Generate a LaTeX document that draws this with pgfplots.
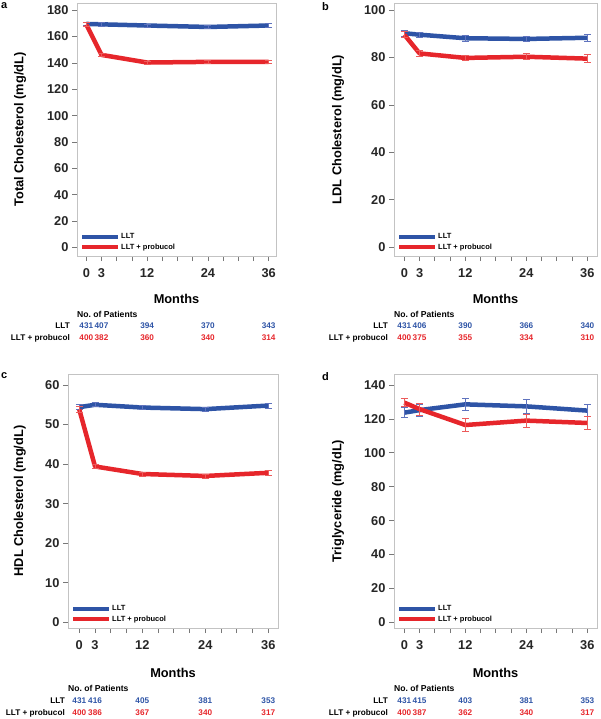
\documentclass[border=0pt]{standalone}
\usepackage{pgfplots}
\pgfplotsset{compat=1.18}
\usepackage{fontspec}
\setmainfont{Liberation Sans}

\definecolor{cblue}{RGB}{46,84,166}
\definecolor{cred}{RGB}{230,38,43}
\definecolor{eblue}{RGB}{95,115,190}
\definecolor{ered}{RGB}{236,90,90}
\definecolor{framec}{RGB}{195,195,195}
\definecolor{tickc}{RGB}{120,120,120}

\newcommand\bigfont{\bfseries\fontsize{12.8}{14}\selectfont}
\tikzset{tab/.style={font=\bfseries\fontsize{8.2}{9}\selectfont, inner sep=0pt, text height=6pt, text depth=0pt, anchor=center}}

% numbers at risk: x, ymin, offset, LLT, LLT+probucol
\newcommand\cnt[5]{%
  \node[tab,text=cblue,yshift=-#3pt] at (axis cs:#1,#2) {#4};
  \node[tab,text=cred,yshift=-#3pt-12pt] at (axis cs:#1,#2) {#5};}
\newcommand\rowlabels[3]{% xgap, first offset, header offset
  \node[tab,font=\bfseries\fontsize{8.6}{9}\selectfont,anchor=west,yshift=-#3pt] at (rel axis cs:0,0) {No.\ of Patients};
  \node[tab,anchor=east,xshift=-#1pt,yshift=-#2pt] at (rel axis cs:0,0) {LLT};
  \node[tab,anchor=east,xshift=-#1pt,yshift=-#2pt-12pt] at (rel axis cs:0,0) {LLT + probucol};}

\pgfplotsset{
  panel/.style={
    scale only axis, clip=false, anchor=north west,
    axis line style={framec, line width=0.8pt},
    xtick={0,3,12,24,36},
    minor xtick={6,9,15,18,21,27,30,33},
    xtick pos=bottom, ytick pos=left,
    tick align=outside,
    major tick length=5pt, minor tick length=5pt,
    every tick/.style={tickc, line width=0.7pt},
    every minor tick/.style={tickc, line width=0.7pt},
    tick label style={font=\bigfont, text=black!85},
    xticklabel style={yshift=-4pt},
    /pgf/number format/assume math mode=true,
    xlabel={Months},
    xlabel style={font=\bigfont, at={(axis description cs:0.5,0)}, anchor=center},
    ylabel style={font=\bigfont, anchor=center},
    legend style={at={(rel axis cs:0,0)}, anchor=south west, xshift=3pt, yshift=4pt,
      draw=none, fill=none, font=\bfseries\fontsize{7.5}{8}\selectfont,
      row sep=1.5pt, inner sep=0pt, nodes={inner sep=1pt}},
    legend cell align=left,
    legend image code/.code={\draw[#1, line width=4pt] (0pt,0pt) -- (36pt,0pt);},
  },
  llt/.style={cblue, line width=4.5pt, line join=round, error bars/.cd, y dir=both, y explicit,
    error bar style={eblue, line width=0.8pt},
    error mark options={eblue, line width=0.8pt, mark size=3.5pt, rotate=90}},
  prb/.style={cred, line width=4.5pt, line join=round, error bars/.cd, y dir=both, y explicit,
    error bar style={ered, line width=0.8pt},
    error mark options={ered, line width=0.8pt, mark size=3.5pt, rotate=90}},
}

\begin{document}
\begin{tikzpicture}
\path (0,0) rectangle (600pt,-719pt);

\node[anchor=north west, inner sep=0pt, font=\bfseries\fontsize{11}{12}\selectfont] at (1pt,-2pt) {a};
\node[anchor=north west, inner sep=0pt, font=\bfseries\fontsize{11}{12}\selectfont] at (322pt,-2pt) {b};
\node[anchor=north west, inner sep=0pt, font=\bfseries\fontsize{11}{12}\selectfont] at (1pt,-372pt) {c};
\node[anchor=north west, inner sep=0pt, font=\bfseries\fontsize{11}{12}\selectfont] at (322pt,-372pt) {d};

% a: total cholesterol
\begin{axis}[panel, at={(77pt,-3pt)}, width=199pt, height=253pt,
  xmin=-1.84, xmax=37.44, ymin=-6.6, ymax=185.5, ytick={0,20,...,180},
  ylabel={Total Cholesterol (mg/dL)},
  ylabel style={at={(axis description cs:-0.286,0.5)}},
  xlabel style={yshift=-43pt}]
\addplot[llt] coordinates {(0,169.6) +- (0,1.2) (3,169.3) +- (0,1.2) (12,168.4) +- (0,1.2) (24,167.3) +- (0,1.2) (36,168.4) +- (0,1.3)};
\addlegendentry{LLT}
\addplot[prb] coordinates {(0,169.2) +- (0,1.3) (3,146.1) +- (0,1.3) (12,140.3) +- (0,1.2) (24,140.8) +- (0,1.2) (36,140.8) +- (0,1.4)};
\addlegendentry{LLT + probucol}
\rowlabels{7}{69}{58}
\cnt{0}{-6.6}{69}{431}{400}
\cnt{3}{-6.6}{69}{407}{382}
\cnt{12}{-6.6}{69}{394}{360}
\cnt{24}{-6.6}{69}{370}{340}
\cnt{36}{-6.6}{69}{343}{314}
\end{axis}

% b: LDL cholesterol
\begin{axis}[panel, at={(394pt,-3pt)}, width=203pt, height=253pt,
  xmin=-2.03, xmax=37.9, ymin=-3.67, ymax=102.95, ytick={0,20,...,100},
  ylabel={LDL Cholesterol (mg/dL)},
  ylabel style={at={(axis description cs:-0.276,0.5)}},
  xlabel style={yshift=-43pt}]
\addplot[llt] coordinates {(0,90.2) +- (0,1.2) (3,89.6) +- (0,1.0) (12,88.1) +- (0,1.3) (24,87.8) +- (0,1.1) (36,88.3) +- (0,1.5)};
\addlegendentry{LLT}
\addplot[prb] coordinates {(0,89.6) +- (0,1.3) (3,81.7) +- (0,1.2) (12,79.8) +- (0,1.1) (24,80.3) +- (0,1.2) (36,79.5) +- (0,1.6)};
\addlegendentry{LLT + probucol}
\rowlabels{6}{69}{58}
\cnt{0}{-3.67}{69}{431}{400}
\cnt{3}{-3.67}{69}{406}{375}
\cnt{12}{-3.67}{69}{390}{355}
\cnt{24}{-3.67}{69}{366}{334}
\cnt{36}{-3.67}{69}{340}{310}
\end{axis}

% c: HDL cholesterol
\begin{axis}[panel, at={(68pt,-374pt)}, width=210pt, height=254pt,
  xmin=-2.15, xmax=37.85, ymin=-1.44, ymax=62.78, ytick={0,10,...,60},
  ylabel={HDL Cholesterol (mg/dL)},
  ylabel style={at={(axis description cs:-0.229,0.5)}},
  xlabel style={yshift=-45pt}]
\addplot[llt] coordinates {(0,54.4) +- (0,0.6) (3,55.0) +- (0,0.5) (12,54.3) +- (0,0.5) (24,53.9) +- (0,0.5) (36,54.8) +- (0,0.6)};
\addlegendentry{LLT}
\addplot[prb] coordinates {(0,53.8) +- (0,0.7) (3,39.4) +- (0,0.5) (12,37.5) +- (0,0.5) (24,37.0) +- (0,0.5) (36,37.8) +- (0,0.7)};
\addlegendentry{LLT + probucol}
\rowlabels{3}{72}{60}
\cnt{0}{-1.44}{72}{431}{400}
\cnt{3}{-1.44}{72}{416}{386}
\cnt{12}{-1.44}{72}{405}{367}
\cnt{24}{-1.44}{72}{381}{340}
\cnt{36}{-1.44}{72}{353}{317}
\end{axis}

% d: triglyceride
\begin{axis}[panel, at={(394pt,-374pt)}, width=203pt, height=254pt,
  xmin=-2.03, xmax=37.9, ymin=-3.36, ymax=146.5, ytick={0,20,...,140},
  ylabel={Triglyceride (mg/dL)},
  ylabel style={at={(axis description cs:-0.276,0.5)}},
  xlabel style={yshift=-45pt}]
\addplot[llt] coordinates {(0,123.7) +- (0,3.0) (3,125.2) +- (0,3.5) (12,128.6) +- (0,3.4) (24,127.4) +- (0,4.0) (36,124.9) +- (0,3.6)};
\addlegendentry{LLT}
\addplot[prb] coordinates {(0,129.6) +- (0,2.5) (3,125.8) +- (0,3.6) (12,116.4) +- (0,4.0) (24,119.0) +- (0,3.8) (36,117.6) +- (0,3.7)};
\addlegendentry{LLT + probucol}
\rowlabels{6}{72}{60}
\cnt{0}{-3.36}{72}{431}{400}
\cnt{3}{-3.36}{72}{415}{387}
\cnt{12}{-3.36}{72}{403}{362}
\cnt{24}{-3.36}{72}{381}{340}
\cnt{36}{-3.36}{72}{353}{317}
\end{axis}
\end{tikzpicture}
\end{document}
